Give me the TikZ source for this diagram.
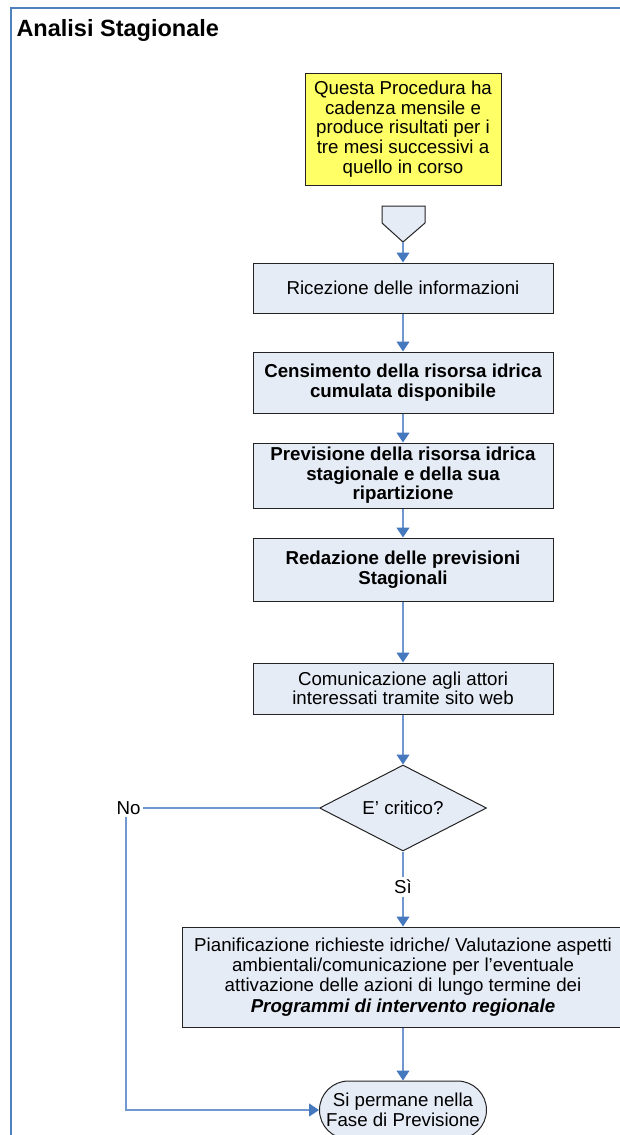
\documentclass[tikz,border=0pt]{standalone}
\usepackage{fontspec}
\setmainfont{Liberation Sans}
\usetikzlibrary{shapes.geometric,arrows.meta}

\definecolor{boxfill}{RGB}{230,236,246}
\definecolor{notefill}{RGB}{255,255,102}
\definecolor{lineblue}{RGB}{112,151,208}
\definecolor{tipblue}{RGB}{70,120,190}
\definecolor{frameblue}{RGB}{79,129,189}
\definecolor{edgegray}{RGB}{35,35,35}

\newcommand{\bodysize}{\fontsize{18.7}{19.6}\selectfont}

\tikzset{
  procbox/.style={rectangle, draw=edgegray, fill=boxfill, line width=1pt,
    minimum width=300pt, inner sep=0pt, align=center, font=\bodysize},
  boldbox/.style={procbox, font=\bfseries\bodysize},
  notebox/.style={procbox, fill=notefill, minimum width=196pt, minimum height=112pt},
  decision/.style={diamond, aspect=1.94, draw=edgegray, fill=boxfill, line width=1pt,
    minimum width=167pt, minimum height=86pt, inner sep=0pt, font=\bodysize},
  terminal/.style={rectangle, rounded corners=29pt, draw=edgegray, fill=boxfill, line width=1pt,
    minimum width=167pt, minimum height=58pt, inner sep=0pt, align=center, font=\bodysize},
  answer/.style={inner sep=2.5pt, font=\bodysize},
  flowline/.style={draw=lineblue, line width=1.2pt},
  flow/.style={flowline, -{Triangle[length=10pt,width=13pt,color=tipblue]}},
  frameline/.style={draw=frameblue, line width=2pt}
}

\begin{document}
\begin{tikzpicture}[x=1pt,y=-1pt]
    \useasboundingbox (0,0) rectangle (620,1135);

    % Draw frame and title
    \draw[frameline] (10.5,1135) -- (10.5,8) -- (620,8);
    \node[anchor=base west, font=\bfseries\fontsize{23.5}{26}\selectfont] (title) at (13,36) {Analisi Stagionale};

    % Note on the procedure
    \node[notebox] (note) at (403,129) {Questa Procedura ha\\cadenza mensile e\\produce risultati per i\\tre mesi successivi a\\quello in corso};

    % Off-page reference
    \draw[draw=edgegray, fill=boxfill, line width=1pt] (382,206) -- (425,206) -- (425,223) -- (403,242) -- (382,223) -- cycle;
    \coordinate (offpage) at (403,242);

    % Process steps
    \node[procbox, minimum height=50pt] (ric) at (403,288) {Ricezione delle informazioni};
    \node[boldbox, minimum height=61pt] (cens) at (403,382.5) {Censimento della risorsa idrica\\cumulata disponibile};
    \node[boldbox, minimum height=65pt] (prev) at (403,475.5) {Previsione della risorsa idrica\\stagionale e della sua\\ripartizione};
    \node[boldbox, minimum height=63pt] (red) at (403,569.5) {Redazione delle previsioni\\Stagionali};
    \node[procbox, minimum height=51pt] (com) at (403,688.5) {Comunicazione agli attori\\interessati tramite sito web};

    % Decision
    \node[decision] (crit) at (403,808) {E’ critico?};
    \node[answer] (si) at (403,887) {Sì};
    \node[answer] (no) at (128.5,808) {No};

    \node[procbox, minimum width=442pt, minimum height=100pt, font=\fontsize{18.7}{20.3}\selectfont] (plan) at (403,977) {Pianificazione richieste idriche/ Valutazione aspetti\\ambientali/comunicazione per l’eventuale\\attivazione delle azioni di lungo termine dei\\\textbf{\textit{Programmi di intervento regionale}}};

    \node[terminal] (term) at (403,1110) {Si permane nella\\Fase di Previsione};

    % Connectors
    \draw[flow] (offpage) -- (ric);
    \draw[flow] (ric) -- (cens);
    \draw[flow] (cens) -- (prev);
    \draw[flow] (prev) -- (red);
    \draw[flow] (red) -- (com);
    \draw[flow] (com) -- (crit);
    \draw[flowline] (crit) -- (si);
    \draw[flow] (si) -- (plan);
    \draw[flowline] (crit) -- (no);
    \draw[flow] ([xshift=-2.5pt]no.south) |- (term.west);
    \draw[flow] (plan) -- (term);
\end{tikzpicture}
\end{document}
